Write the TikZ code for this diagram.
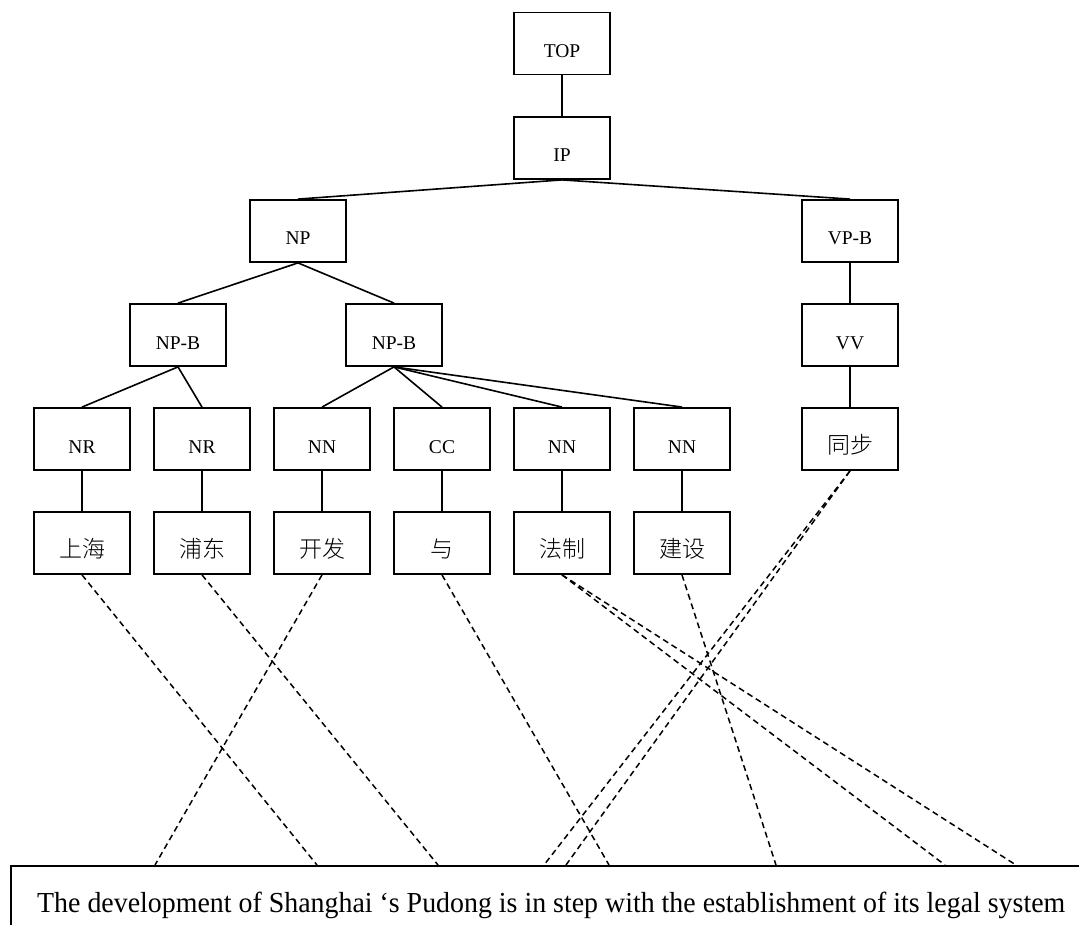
\documentclass[tikz,border=0pt]{standalone}
\usepackage{fontspec}
\setmainfont{Liberation Serif}
\newfontfamily\cjk{Noto Sans CJK SC}[UprightFont=* Light]
\usetikzlibrary{calc}
\begin{document}
\begin{tikzpicture}[x=1pt,y=-1pt,
  tbox/.style={draw, line width=1.8pt, minimum width=96pt, minimum height=62pt,
    inner sep=0pt, text height=28pt, text depth=0pt,
    font=\fontsize{19.5}{22}\selectfont},
  wbox/.style={tbox, font=\fontsize{23}{26}\selectfont\cjk},
  edge/.style={line width=1.6pt},
  align/.style={line width=1.5pt, dash pattern=on 6pt off 4pt}]
\useasboundingbox (0,0) rectangle (1079,925);
\clip (0,0) rectangle (1079,925);

% phrase structure
\node[tbox] (top)  at (562,43.5) {TOP};
\node[tbox] (ip)   at (562,148) {IP};
\node[tbox] (np)   at (298,231) {NP};
\node[tbox] (vpb)  at (850,231) {VP-B};
\node[tbox] (npb1) at (178,335) {NP-B};
\node[tbox] (npb2) at (394,335) {NP-B};
\node[tbox] (vv)   at (850,335) {VV};

% part-of-speech tags
\node[tbox] (nr1) at (82,439)  {NR};
\node[tbox] (nr2) at (202,439) {NR};
\node[tbox] (nn1) at (322,439) {NN};
\node[tbox] (cc)  at (442,439) {CC};
\node[tbox] (nn2) at (562,439) {NN};
\node[tbox] (nn3) at (682,439) {NN};
\node[wbox] (tb)  at (850,439) {同步};

% Chinese words
\node[wbox] (w1) at (82,543)  {上海};
\node[wbox] (w2) at (202,543) {浦东};
\node[wbox] (w3) at (322,543) {开发};
\node[wbox] (w4) at (442,543) {与};
\node[wbox] (w5) at (562,543) {法制};
\node[wbox] (w6) at (682,543) {建设};

% tree edges
\draw[edge] (top.south) -- (ip.north);
\draw[edge] (ip.south) -- (np.north);
\draw[edge] (ip.south) -- (vpb.north);
\draw[edge] (np.south) -- (npb1.north);
\draw[edge] (np.south) -- (npb2.north);
\draw[edge] (vpb.south) -- (vv.north);
\draw[edge] (vv.south) -- (tb.north);
\draw[edge] (npb1.south) -- (nr1.north);
\draw[edge] (npb1.south) -- (nr2.north);
\draw[edge] (npb2.south) -- (nn1.north);
\draw[edge] (npb2.south) -- (cc.north);
\draw[edge] (npb2.south) -- (nn2.north);
\draw[edge] (npb2.south) -- (nn3.north);
\draw[edge] (nr1.south) -- (w1.north);
\draw[edge] (nr2.south) -- (w2.north);
\draw[edge] (nn1.south) -- (w3.north);
\draw[edge] (cc.south) -- (w4.north);
\draw[edge] (nn2.south) -- (w5.north);
\draw[edge] (nn3.south) -- (w6.north);

% English sentence box
\node[draw, line width=1.8pt, anchor=north west, minimum width=1120pt,
  minimum height=100pt, inner sep=0pt] (sent) at (10,865) {};
\node[anchor=base west, inner sep=0pt] (sentence) at (37,912)
  {\fontsize{29}{32}\selectfont\resizebox{1028pt}{\height}{The development of Shanghai ‘s Pudong is in step with the establishment of its legal system}};

% word alignment end points on the sentence box
\coordinate (eDev)   at (155,865);
\coordinate (eSh)    at (317,865);
\coordinate (ePd)    at (438,865);
\coordinate (eIn)    at (544,865);
\coordinate (eStep)  at (566,865);
\coordinate (eWith)  at (609,865);
\coordinate (eEst)   at (776,865);
\coordinate (eLegal) at (945,865);
\coordinate (eSys)   at (1016,865);

% word alignments
\draw[align] (w1.south) -- (eSh);
\draw[align] (w2.south) -- (ePd);
\draw[align] (w3.south) -- (eDev);
\draw[align] (w4.south) -- (eWith);
\draw[align] (w5.south) -- (eLegal);
\draw[align] (w5.south) -- (eSys);
\draw[align] (w6.south) -- (eEst);
\draw[align] (tb.south) -- (eIn);
\draw[align] (tb.south) -- (eStep);
\end{tikzpicture}
\end{document}
